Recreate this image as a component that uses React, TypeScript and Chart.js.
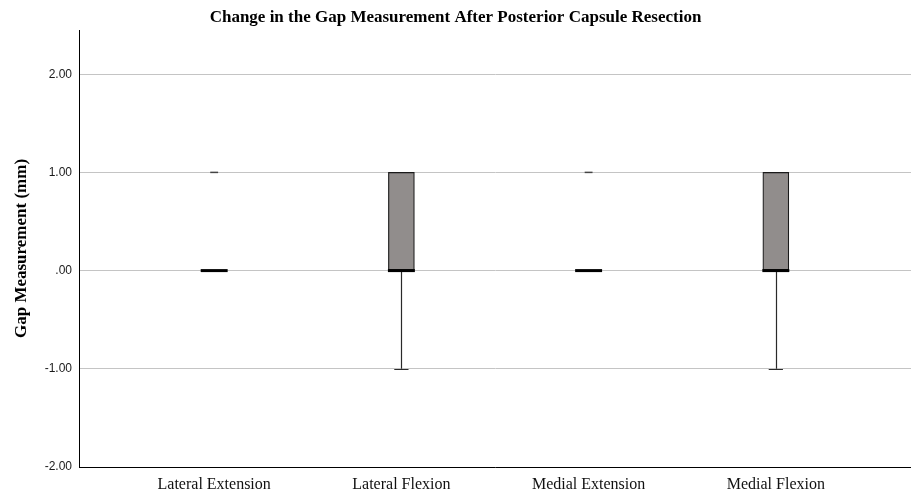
import React, { useEffect, useRef } from "react";
import { Chart, registerables } from "chart.js";

Chart.register(...registerables);

// Box-plot summaries per condition (mm)
const categories = ["Lateral Extension", "Lateral Flexion", "Medial Extension", "Medial Flexion"];
const lowerQuartile = [0, 0, 0, 0];
const medianValues = [0, 0, 0, 0];
const upperQuartile = [0, 1, 0, 1];
const whiskerLow = [0, -1, 0, -1];
const whiskerHigh = [0, 1, 0, 1];
const outlierValues: number[][] = [[1], [], [1], []];

const yTicks = [-2, -1, 0, 1, 2];

const formatTick = (v: number) => {
  if (v === 0) return ".00";
  return v.toFixed(2);
};

const boxPlotPlugin = {
  id: "boxPlotMarks",
  afterDatasetsDraw(chart: any) {
    const { ctx, scales } = chart;
    const x = scales.x;
    const y = scales.y;
    const unit = x.getPixelForValue(1) - x.getPixelForValue(0);
    const boxHalf = unit * 0.072;
    const capHalf = unit * 0.038;
    const dashHalf = unit * 0.021;
    ctx.save();
    categories.forEach((_, i) => {
      const xc = x.getPixelForValue(i);
      const q1 = y.getPixelForValue(lowerQuartile[i]);
      const q3 = y.getPixelForValue(upperQuartile[i]);
      const lo = y.getPixelForValue(whiskerLow[i]);
      const hi = y.getPixelForValue(whiskerHigh[i]);
      ctx.strokeStyle = "#2a2a2a";
      ctx.lineWidth = 1.2;
      // lower whisker and cap
      if (whiskerLow[i] < lowerQuartile[i]) {
        ctx.beginPath();
        ctx.moveTo(Math.round(xc) + 0.5, q1);
        ctx.lineTo(Math.round(xc) + 0.5, lo);
        ctx.moveTo(xc - capHalf, Math.round(lo) + 0.5);
        ctx.lineTo(xc + capHalf, Math.round(lo) + 0.5);
        ctx.stroke();
      }
      // upper whisker and cap
      if (whiskerHigh[i] > upperQuartile[i]) {
        ctx.beginPath();
        ctx.moveTo(Math.round(xc) + 0.5, q3);
        ctx.lineTo(Math.round(xc) + 0.5, hi);
        ctx.moveTo(xc - capHalf, Math.round(hi) + 0.5);
        ctx.lineTo(xc + capHalf, Math.round(hi) + 0.5);
        ctx.stroke();
      }
      // median
      const m = y.getPixelForValue(medianValues[i]);
      ctx.strokeStyle = "#000000";
      ctx.lineWidth = 3;
      ctx.beginPath();
      ctx.moveTo(xc - boxHalf, m);
      ctx.lineTo(xc + boxHalf, m);
      ctx.stroke();
      // outliers
      ctx.strokeStyle = "#444444";
      ctx.lineWidth = 1.5;
      outlierValues[i].forEach((v) => {
        const oy = y.getPixelForValue(v);
        ctx.beginPath();
        ctx.moveTo(xc - dashHalf, oy);
        ctx.lineTo(xc + dashHalf, oy);
        ctx.stroke();
      });
    });
    ctx.restore();
  },
};

export default function App() {
  const canvasRef = useRef<HTMLCanvasElement | null>(null);

  useEffect(() => {
    if (!canvasRef.current) return;
    const chart = new Chart(canvasRef.current, {
      type: "bar",
      data: {
        datasets: [
          {
            label: "IQR",
            data: categories.map((_, i) => ({ x: i, y: [lowerQuartile[i], upperQuartile[i]] })) as any,
            backgroundColor: "#918d8c",
            borderColor: "#1a1a1a",
            borderWidth: 1.2,
            borderSkipped: false,
            barThickness: 26,
          },
        ],
      },
      options: {
        animation: false,
        responsive: true,
        maintainAspectRatio: false,
        layout: { padding: 0 },
        plugins: {
          legend: { display: false },
          tooltip: { enabled: false },
          title: {
            display: true,
            text: "Change in the Gap Measurement After Posterior Capsule Resection",
            color: "#000000",
            font: { family: "'Liberation Serif', serif", size: 17, weight: "bold" },
            padding: { top: 7.5, bottom: 2.1 },
          },
        },
        scales: {
          x: {
            type: "linear",
            offset: false,
            min: -0.722,
            max: 3.722,
            afterBuildTicks: (scale: any) => {
              scale.ticks = categories.map((_, i) => ({ value: i }));
            },
            afterFit: (scale: any) => {
              scale.height = 28;
            },
            ticks: {
              callback: (v: any) => categories[Number(v)] ?? "",
              color: "#111111",
              font: { family: "'Liberation Serif', serif", size: 16 },
              padding: 8,
              maxRotation: 0,
              autoSkip: false,
            },
            grid: { display: false, drawTicks: false, offset: false },
            border: { display: true, color: "#000000", width: 1 },
          },
          y: {
            type: "linear",
            min: -2,
            max: 2.45,
            afterBuildTicks: (scale: any) => {
              scale.ticks = yTicks.map((v) => ({ value: v }));
            },
            afterFit: (scale: any) => {
              scale.width = 79;
            },
            ticks: {
              callback: (v: any) => formatTick(Number(v)),
              color: "#1a1a1a",
              font: { family: "'Liberation Sans', Arial, sans-serif", size: 12 },
              padding: 7,
            },
            grid: { color: "#c4c4c4", lineWidth: 1, drawTicks: false },
            border: { display: true, color: "#000000", width: 1 },
            title: {
              display: true,
              text: "Gap Measurement (mm)",
              color: "#000000",
              font: { family: "'Liberation Serif', serif", size: 17, weight: "bold" },
              padding: { top: 11, bottom: 0 },
            },
          },
        },
      },
      plugins: [boxPlotPlugin],
    });
    return () => chart.destroy();
  }, []);

  return (
    <div style={{ position: "fixed", left: 0, top: 0, width: 911, height: 495, background: "#ffffff" }}>
      <canvas ref={canvasRef} />
    </div>
  );
}
